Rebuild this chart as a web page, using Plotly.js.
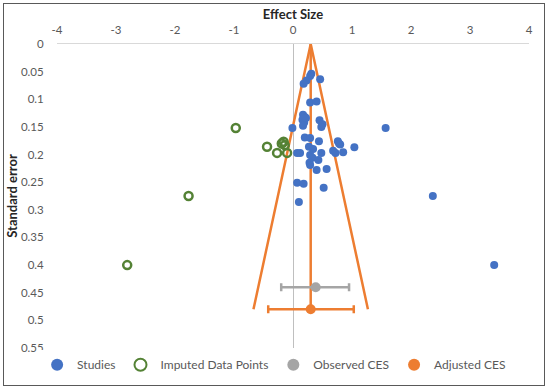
<!DOCTYPE html>
<html>
<head>
<meta charset="utf-8">
<script src="https://cdn.plot.ly/plotly-3.0.1.min.js"></script>
<style>
  html, body { margin: 0; padding: 0; background: #fff; }
  #wrap { position: relative; width: 550px; height: 391px; }
  #chart { width: 550px; height: 391px; }
  #frame { position: absolute; left: 3px; top: 3px; width: 540px; height: 381px;
           border: 1.5px solid #595959; pointer-events: none; }
</style>
</head>
<body>
<div id="wrap"><div id="chart"></div><div id="frame"></div></div>
<script>
// Studies (effect size, standard error)
const studyES = [0.31, 0.29, 0.46, 0.23, 0.18, 0.29, 0.40, -0.01, 0.17, 0.20, 0.16, 0.19, 0.17, 0.22,
  0.45, 0.50, 0.48, 1.57, 0.20, 0.29, 0.44, 0.76, 0.80, 0.78, 1.04, 0.68, 0.72, 0.85, 0.27, 0.34,
  0.48, 0.07, 0.12, 0.29, 0.33, 0.43, 0.28, 0.29, 0.40, 0.57, 0.07, 0.18, 0.52, 0.10, 2.37, 3.41];
const studySE = [0.054, 0.058, 0.064, 0.066, 0.072, 0.106, 0.104, 0.152, 0.128, 0.132, 0.137, 0.142, 0.148, 0.134,
  0.138, 0.145, 0.150, 0.152, 0.169, 0.170, 0.176, 0.176, 0.182, 0.180, 0.187, 0.193, 0.197, 0.196, 0.186, 0.190,
  0.197, 0.197, 0.197, 0.201, 0.206, 0.210, 0.215, 0.219, 0.228, 0.226, 0.251, 0.253, 0.260, 0.286, 0.275, 0.400];

// Imputed data points
const imputedES = [-0.97, -1.77, -2.81, -0.44, -0.16, -0.14, -0.19, -0.27, -0.10];
const imputedSE = [0.152, 0.275, 0.400, 0.186, 0.177, 0.183, 0.180, 0.197, 0.197];

// Combined effect sizes
const observedCES = {es: 0.385, se: 0.44, lo: -0.20, hi: 0.95};
const adjustedCES = {es: 0.30, se: 0.48, lo: -0.42, hi: 1.03};

// Funnel (centre and half-width at its base)
const funnelCentre = 0.30;
const funnelBaseSE = 0.48;
const funnelHalfWidth = 0.97;

const xTicks = [-4, -3, -2, -1, 0, 1, 2, 3, 4];
const yTicks = [0, 0.05, 0.1, 0.15, 0.2, 0.25, 0.3, 0.35, 0.4, 0.45, 0.5, 0.55];

const fontFam = 'Lato, "Open Sans", sans-serif';
const blue = '#4472C4', green = '#548235', gray = '#A5A5A5', orange = '#ED7D31';

const traces = [
  {
    x: [funnelCentre - funnelHalfWidth, funnelCentre, funnelCentre + funnelHalfWidth, null, funnelCentre, funnelCentre],
    y: [funnelBaseSE, 0, funnelBaseSE, null, 0, funnelBaseSE],
    mode: 'lines', line: {color: orange, width: 2.5}, showlegend: false, hoverinfo: 'skip'
  },
  {
    name: 'Studies', x: studyES, y: studySE, mode: 'markers', type: 'scatter',
    marker: {color: blue, size: 8}
  },
  {
    name: 'Imputed Data Points', x: imputedES, y: imputedSE, mode: 'markers', type: 'scatter',
    marker: {color: 'rgba(255,255,255,0)', size: 8, line: {color: green, width: 2.5}}
  },
  {
    name: 'Observed CES', x: [observedCES.es], y: [observedCES.se], mode: 'markers', type: 'scatter',
    marker: {color: gray, size: 10},
    error_x: {type: 'data', symmetric: false, array: [observedCES.hi - observedCES.es],
              arrayminus: [observedCES.es - observedCES.lo], color: gray, thickness: 2.5, width: 4}
  },
  {
    name: 'Adjusted CES', x: [adjustedCES.es], y: [adjustedCES.se], mode: 'markers', type: 'scatter',
    marker: {color: orange, size: 10},
    error_x: {type: 'data', symmetric: false, array: [adjustedCES.hi - adjustedCES.es],
              arrayminus: [adjustedCES.es - adjustedCES.lo], color: orange, thickness: 2.5, width: 4}
  }
];

const layout = {
  width: 550, height: 391,
  margin: {l: 57, r: 21, t: 44, b: 39, pad: 0},
  paper_bgcolor: '#fff', plot_bgcolor: '#fff',
  font: {family: fontFam, size: 11, color: '#595959'},
  showlegend: true,
  legend: {
    orientation: 'h', x: 0.46, xanchor: 'center', y: -0.055, yanchor: 'middle',
    font: {family: fontFam, size: 12, color: '#595959'}, itemwidth: 30,
    itemsizing: 'constant', traceorder: 'normal'
  },
  xaxis: {
    side: 'top', range: [-4, 4], tickvals: xTicks, ticktext: xTicks.map(String),
    showgrid: false, zeroline: true, zerolinecolor: '#BFBFBF', zerolinewidth: 1,
    showline: true, linecolor: '#D9D9D9', linewidth: 1.5, mirror: false,
    ticks: 'outside', ticklen: 4, tickcolor: 'rgba(0,0,0,0)',
    tickfont: {family: fontFam, size: 11.5, color: '#595959'},
    title: {text: 'Effect Size', font: {family: fontFam, size: 13, color: '#262626', weight: 'bold'}, standoff: 0}
  },
  yaxis: {
    range: [0.55, 0], autorange: false, tickvals: yTicks, ticktext: yTicks.map(String),
    showgrid: false, zeroline: false, showline: false,
    ticks: 'outside', ticklen: 10, tickcolor: 'rgba(0,0,0,0)',
    tickfont: {family: fontFam, size: 11.5, color: '#595959'},
    title: {text: 'Standard error', font: {family: fontFam, size: 13, color: '#262626', weight: 'bold'}, standoff: 0}
  }
};

Plotly.newPlot('chart', traces, layout, {staticPlot: true, displayModeBar: false});
</script>
</body>
</html>
